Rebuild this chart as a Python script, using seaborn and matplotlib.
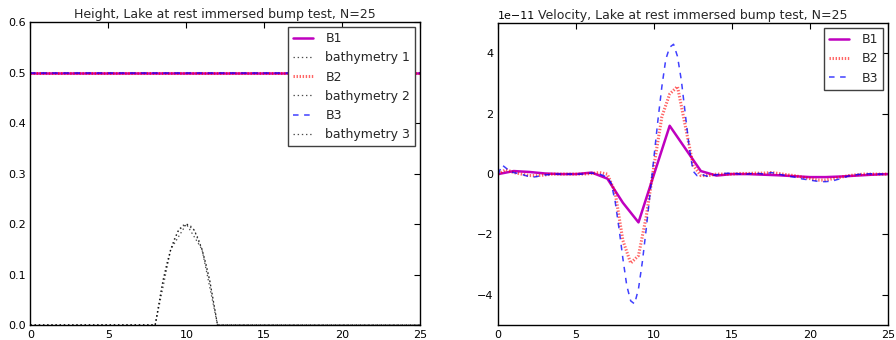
import numpy as np
import matplotlib
matplotlib.use("Agg")
import matplotlib.pyplot as plt
import seaborn as sns

# ---- height panel data ----
h_x = [0, 25]
h_b1 = [0.5, 0.5]
h_b2 = [0.5, 0.5]
h_b3 = [0.5, 0.5]

bath1_x = [0, 8, 9, 10, 11, 12, 25]
bath1_y = [0.0, 0.0, 0.15, 0.2, 0.15, 0.0, 0.0]
bath2_x = [0, 8, 8.5, 9, 9.5, 10, 10.5, 11, 11.5, 12, 25]
bath2_y = [0.0, 0.0, 0.088, 0.15, 0.188, 0.2, 0.188, 0.15, 0.088, 0.0, 0.0]
bath3_x = [0, 8, 8.25, 8.5, 8.75, 9, 9.25, 9.5, 9.75, 10,
           10.25, 10.5, 10.75, 11, 11.25, 11.5, 11.75, 12, 25]
bath3_y = [0.0, 0.0, 0.044, 0.088, 0.122, 0.15, 0.172, 0.188, 0.197, 0.2,
           0.197, 0.188, 0.172, 0.15, 0.122, 0.088, 0.044, 0.0, 0.0]

# ---- velocity panel data (units of 1e-11) ----
v_b1 = [0.0, 0.1, 0.07, 0.02, 0.0, 0.0, 0.05, -0.15, -0.95, -1.6,
        0.0, 1.6, 0.85, 0.1, -0.05, 0.0, 0.0, -0.02, -0.04, -0.07,
        -0.1, -0.1, -0.08, -0.05, -0.02, 0.0]

v_b2 = [0.0, 0.15, 0.05, 0.0, -0.05, -0.05, -0.03, 0.0, 0.0, 0.0,
        0.0, 0.0, 0.02, 0.05, 0.0, -0.6, -2.2, -2.95, -2.7, -1.4,
        0.3, 1.9, 2.65, 2.9, 1.6, 0.3, -0.05, -0.05, 0.0, 0.0,
        0.0, 0.02, 0.02, 0.03, 0.03, 0.05, 0.02, -0.02, -0.05, -0.1,
        -0.15, -0.2, -0.2, -0.15, -0.1, -0.05, -0.02, 0.0, 0.0, 0.0,
        0.0]

v_b3 = [0.0, 0.3, 0.2, 0.08,
        0.05, 0.02, 0.0, -0.05,
        -0.08, -0.1, -0.08, -0.05,
        -0.03, -0.02, 0.0, 0.0,
        0.0, 0.0, 0.0, 0.0,
        0.0, 0.0, 0.0, 0.02,
        0.03, 0.02, 0.0, -0.05,
        -0.1, -0.3, -0.9, -1.8,
        -2.8, -3.7, -4.2, -4.3,
        -3.8, -2.9, -1.8, -0.6,
        0.6, 1.8, 2.9, 3.8,
        4.2, 4.3, 3.9, 3.1,
        2.0, 0.9, 0.1, -0.05,
        0.0, -0.05, -0.08, -0.05,
        -0.02, 0.0, 0.02, 0.03,
        0.03, 0.02, 0.0, 0.0,
        0.0, 0.02, 0.03, 0.02,
        0.0, 0.02, 0.05, 0.03,
        0.0, -0.03, -0.06, -0.08,
        -0.1, -0.13, -0.16, -0.18,
        -0.2, -0.22, -0.24, -0.25,
        -0.25, -0.24, -0.22, -0.18,
        -0.15, -0.1, -0.06, -0.03,
        -0.02, 0.0, 0.0, 0.01,
        0.01, 0.0, 0.0, 0.0,
        0.0]
v_scale = 1e-11

x1 = np.linspace(0, 25, len(v_b1))
x2 = np.linspace(0, 25, len(v_b2))
x3 = np.linspace(0, 25, len(v_b3))

sns.set_style("white")
plt.rcParams['font.family'] = ['DejaVu Sans']
plt.rcParams.update({
    'lines.scale_dashes': False,
    'xtick.direction': 'in', 'ytick.direction': 'in',
    'xtick.top': True, 'ytick.right': True,
    'xtick.major.size': 4, 'ytick.major.size': 4,
    'xtick.major.width': 0.8, 'ytick.major.width': 0.8,
    'xtick.labelsize': 8, 'ytick.labelsize': 8,
    'axes.edgecolor': 'black', 'axes.linewidth': 1.0,
    'xtick.color': 'black', 'ytick.color': 'black',
})

fig = plt.figure(figsize=(8.96, 3.4), dpi=100)
ax1 = fig.add_axes([0.034, 0.044, 0.435, 0.891])
ax2 = fig.add_axes([0.556, 0.044, 0.435, 0.888])

b1 = dict(color='m', linestyle='-', linewidth=1.8)
b2 = dict(color='r', linestyle=(0, (1.0, 1.2)), linewidth=2.2, alpha=0.6)
b3 = dict(color='b', linestyle=(0, (4, 4)), linewidth=1.1, alpha=0.75)
bath = dict(color='k', linestyle=(0, (1, 2)), linewidth=0.9, alpha=0.7)

sns.lineplot(x=h_x, y=h_b1, ax=ax1, label='B1', **b1)
sns.lineplot(x=bath1_x, y=bath1_y, ax=ax1, label='bathymetry 1', sort=False, **bath)
sns.lineplot(x=h_x, y=h_b2, ax=ax1, label='B2', **b2)
sns.lineplot(x=bath2_x, y=bath2_y, ax=ax1, label='bathymetry 2', sort=False, **bath)
sns.lineplot(x=h_x, y=h_b3, ax=ax1, label='B3', **b3)
sns.lineplot(x=bath3_x, y=bath3_y, ax=ax1, label='bathymetry 3', sort=False, **bath)
ax1.set_xlim(0, 25)
ax1.set_ylim(0, 0.6)
ax1.set_xticks([0, 5, 10, 15, 20, 25])
ax1.set_yticks([0.0, 0.1, 0.2, 0.3, 0.4, 0.5, 0.6])
ax1.set_title('Height, Lake at rest immersed bump test, N=25', fontsize=9, pad=3)

sns.lineplot(x=x1, y=np.array(v_b1) * v_scale, ax=ax2, label='B1', **b1)
sns.lineplot(x=x2, y=np.array(v_b2) * v_scale, ax=ax2, label='B2', **b2)
sns.lineplot(x=x3, y=np.array(v_b3) * v_scale, ax=ax2, label='B3', **b3)
ax2.set_xlim(0, 25)
ax2.set_ylim(-5e-11, 5e-11)
ax2.set_xticks([0, 5, 10, 15, 20, 25])
ax2.set_yticks([-4e-11, -2e-11, 0, 2e-11, 4e-11])
ax2.yaxis.get_offset_text().set_fontsize(8)
ax2.set_title('Velocity, Lake at rest immersed bump test, N=25', fontsize=9, pad=3)

for ax in (ax1, ax2):
    ax.set_xlabel('')
    ax.set_ylabel('')
    for s in ax.spines.values():
        s.set_visible(True)
    leg = ax.legend(loc='upper right', fontsize=9, fancybox=False, framealpha=1,
                    edgecolor='0.25', handlelength=1.6, handletextpad=1.0,
                    borderaxespad=0.4)
    leg.get_frame().set_linewidth(1.0)

fig.savefig('out.png', dpi=100, facecolor='white')
